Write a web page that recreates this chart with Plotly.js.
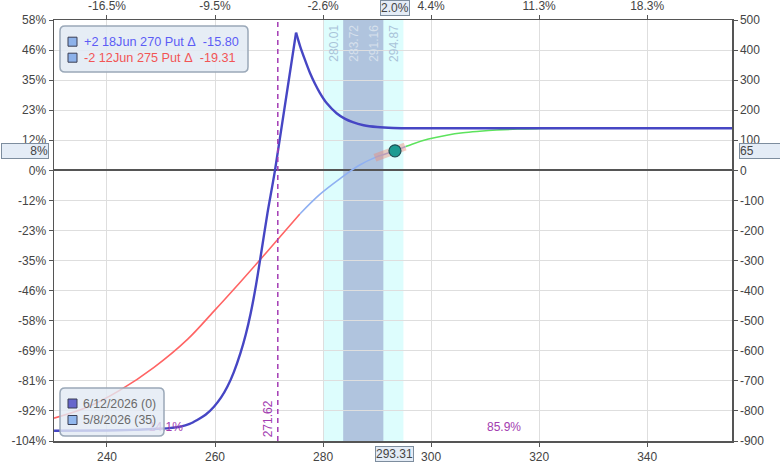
<!DOCTYPE html>
<html>
<head>
<meta charset="utf-8">
<script src="https://cdn.plot.ly/plotly-3.0.1.min.js"></script>
<style>html,body{margin:0;padding:0;background:#fff;}#chart{width:780px;height:463px;}</style>
</head>
<body>
<div id="chart"></div>
<script>
// ---- data ----
const xTicks = [240, 260, 280, 300, 320, 340];
const xTopLabels = ['-16.5%', '-9.5%', '-2.6%', '4.4%', '11.3%', '18.3%'];
const yTicks = [-900, -800, -700, -600, -500, -400, -300, -200, -100, 0, 100, 200, 300, 400, 500];
const yLeftLabels = ['-104%', '-92%', '-81%', '-69%', '-58%', '-46%', '-35%', '-23%', '-12%', '0%', '12%', '23%', '35%', '46%', '58%'];
const yRightLabels = ['-900', '-800', '-700', '-600', '-500', '-400', '-300', '-200', '-100', '0', '100', '200', '300', '400', '500'];

// expiration (6/12/2026) P&L
const expX = [230.2, 240, 245, 248.7, 251.5, 253.6, 255.3, 256.7, 258.3, 259.8, 261.1, 262.3, 263.5, 264.7, 265.7, 266.6, 267.6, 268.5, 269.7, 271.1, 275, 275.8, 276.6, 277.6, 278.5, 279.4, 280.7, 282.5, 284, 285.5, 287.5, 290, 293, 297, 356];
const expY = [-866, -865, -863, -860, -857, -852, -843, -830, -812, -786, -756, -719, -670, -608, -545, -475, -380, -280, -143, 0, 458, 410, 370, 323, 288, 258, 223, 190, 172, 160, 150, 144, 141, 140, 140];

// T+0 (5/8/2026) P&L
const t0X = [230.2, 236.3, 242.5, 248.7, 254.9, 259.8, 264.7, 268.5, 271.4, 275.7, 279.4, 283.1, 286.7, 289.8, 293.31, 295.3, 296.6, 299.5, 302.9, 305.9, 309, 312.1, 316, 320, 326, 335, 356];
const t0Y = [-824, -788, -730, -655, -562, -468, -371, -294, -234, -145, -80, -28, 17, 44, 65, 79, 88, 104, 117, 125, 130, 134, 137.5, 139, 140, 140, 140];
const t0Breaks = [275.7, 295.3];

const currentPrice = 293.31;
const currentPL = 65;
const currentPctTop = '2.0%';
const currentPctLeft = '8%';
const breakeven = 271.62;
const bandOuter = [280.01, 294.87];
const bandInner = [283.72, 291.16];
const probLabels = ['14.1%', '85.9%'];
const probX = [250.9, 313.5];
const probY = [-857, -857];
const tangentX = [289.6, 295.2];
const tangentY = [42, 79];

const legend1Labels = ['+2 18Jun 270 Put \u0394\u00a0\u00a0-15.80', '-2 12Jun 275 Put \u0394\u00a0\u00a0-19.31'];
const legend1Colors = ['#5c5cf5', '#f25555'];
const legend2Labels = ['6/12/2026 (0)', '5/8/2026 (35)'];
const legend2Swatch = ['#6666cc', '#92b8ee'];

// ---- geometry helpers (pixel -> paper) ----
const L = 54, R = 732, T = 20, B = 441;
const PX = p => (p - L) / (R - L);
const PY = p => (B - p) / (B - T);
function rr(x0, y0, x1, y1, r) {
  const X = PX, Y = PY;
  return `M ${X(x0 + r)},${Y(y0)} L ${X(x1 - r)},${Y(y0)} Q ${X(x1)},${Y(y0)} ${X(x1)},${Y(y0 + r)} L ${X(x1)},${Y(y1 - r)} Q ${X(x1)},${Y(y1)} ${X(x1 - r)},${Y(y1)} L ${X(x0 + r)},${Y(y1)} Q ${X(x0)},${Y(y1)} ${X(x0)},${Y(y1 - r)} L ${X(x0)},${Y(y0 + r)} Q ${X(x0)},${Y(y0)} ${X(x0 + r)},${Y(y0)} Z`;
}

function seg(xs0, ys0, lo, hi) {
  const xs = [], ys = [];
  for (let i = 0; i < xs0.length; i++) {
    if (xs0[i] >= lo && xs0[i] <= hi) { xs.push(xs0[i]); ys.push(ys0[i]); }
  }
  return { x: xs, y: ys };
}
const sRed = seg(t0X, t0Y, -Infinity, t0Breaks[0]);
const sBlue = seg(t0X, t0Y, t0Breaks[0], t0Breaks[1]);
const sGreen = seg(t0X, t0Y, t0Breaks[1], Infinity);
const peakX = expX[expY.indexOf(Math.max(...expY))];
const eLeft = seg(expX, expY, -Infinity, peakX);
const eRight = seg(expX, expY, peakX, Infinity);

const FONT = 'Liberation Sans, Arial, sans-serif';
const expLine = { color: '#4646c4', width: 2.4, shape: 'spline', smoothing: 0.8 };

const traces = [
  { x: sRed.x, y: sRed.y, mode: 'lines', line: { color: '#ff6464', width: 1.6, shape: 'spline', smoothing: 1 }, showlegend: false, hoverinfo: 'skip' },
  { x: sBlue.x, y: sBlue.y, mode: 'lines', line: { color: '#8fb0f2', width: 1.6, shape: 'spline', smoothing: 1 }, showlegend: false, hoverinfo: 'skip' },
  { x: sGreen.x, y: sGreen.y, mode: 'lines', line: { color: '#5de35d', width: 1.6, shape: 'spline', smoothing: 1 }, showlegend: false, hoverinfo: 'skip' },
  { x: tangentX, y: tangentY, mode: 'lines', line: { color: 'rgba(238,140,120,0.45)', width: 8 }, showlegend: false, hoverinfo: 'skip' },
  { x: eLeft.x, y: eLeft.y, mode: 'lines', line: expLine, showlegend: false, hoverinfo: 'skip' },
  { x: eRight.x, y: eRight.y, mode: 'lines', line: expLine, showlegend: false, hoverinfo: 'skip' },
  { x: [currentPrice], y: [currentPL], mode: 'markers', marker: { color: '#1d9b92', size: 12, line: { color: '#1f4f55', width: 1.2 } }, showlegend: false, hoverinfo: 'skip' },
  { x: probX, y: probY, mode: 'text', text: probLabels, textfont: { color: '#a23cb0', size: 12, family: FONT }, showlegend: false, hoverinfo: 'skip' },
  { x: [null], y: [null], xaxis: 'x2', yaxis: 'y2', mode: 'lines', showlegend: false, hoverinfo: 'skip' }
];

const axisCommon = {
  showline: true, linecolor: '#555', linewidth: 1.5,
  ticks: 'outside', ticklen: 4, tickcolor: '#555', tickwidth: 1,
  tickfont: { size: 12, color: '#444', family: FONT },
  zeroline: false, fixedrange: true
};

const shapes = [
  { type: 'rect', xref: 'x', yref: 'paper', x0: bandOuter[0], x1: bandOuter[1], y0: 0, y1: 1, fillcolor: '#ddfdfd', line: { width: 0 }, layer: 'below' },
  { type: 'rect', xref: 'x', yref: 'paper', x0: bandInner[0], x1: bandInner[1], y0: 0, y1: 1, fillcolor: '#b0c4de', line: { width: 0 }, layer: 'below' },
  { type: 'line', xref: 'x', yref: 'paper', x0: breakeven, x1: breakeven, y0: 0, y1: 1, line: { color: '#a43cb4', width: 1.5, dash: '5px,4px' }, layer: 'above' },
  { type: 'path', xref: 'paper', yref: 'paper', path: rr(60, 26, 248, 72, 5), fillcolor: 'rgba(226,234,244,0.88)', line: { color: '#9aa8b8', width: 1.5 }, layer: 'above' },
  { type: 'path', xref: 'paper', yref: 'paper', path: rr(60, 388, 164, 436, 5), fillcolor: 'rgba(226,234,244,0.8)', line: { color: '#9aa8b8', width: 1.5 }, layer: 'above' }
];
[41.7, 57.7].forEach((cy) => {
  shapes.push({ type: 'rect', xref: 'paper', yref: 'paper', x0: PX(68), x1: PX(77), y0: PY(cy - 4.5), y1: PY(cy + 4.5), fillcolor: '#8db2ea', line: { color: '#3a3f55', width: 1 }, layer: 'above' });
});
[403.5, 420].forEach((cy, i) => {
  shapes.push({ type: 'rect', xref: 'paper', yref: 'paper', x0: PX(68), x1: PX(77), y0: PY(cy - 4.5), y1: PY(cy + 4.5), fillcolor: legend2Swatch[i], line: { color: '#3a3f55', width: 1 }, layer: 'above' });
});

const boxStyle = { bgcolor: '#e4ecf6', bordercolor: '#7d8d9e', borderwidth: 1, borderpad: 0 };
const annotations = [
  Object.assign({ xref: 'x', x: currentPrice, yref: 'paper', y: 1, yanchor: 'bottom', yshift: 4, text: currentPctTop, showarrow: false, font: { size: 12, color: '#444', family: FONT } }, boxStyle),
  Object.assign({ xref: 'x', x: currentPrice, yref: 'paper', y: 0, yanchor: 'top', yshift: -5, text: String(currentPrice), showarrow: false, font: { size: 12, color: '#444', family: FONT } }, boxStyle),
  Object.assign({ xref: 'paper', x: 0, xanchor: 'right', xshift: -5, yref: 'y', y: currentPL, text: currentPctLeft, width: 46, align: 'right', showarrow: false, font: { size: 12, color: '#444', family: FONT } }, boxStyle),
  Object.assign({ xref: 'paper', x: 1, xanchor: 'left', xshift: 7, yref: 'y', y: currentPL, text: String(currentPL), width: 40, align: 'left', showarrow: false, font: { size: 12, color: '#444', family: FONT } }, boxStyle),
  { xref: 'x', x: breakeven, xanchor: 'right', xshift: -1, yref: 'paper', y: 0, yanchor: 'bottom', yshift: 2, text: String(breakeven), textangle: -90, showarrow: false, font: { size: 12, color: '#a23cb0', family: FONT } },
  { xref: 'x', x: bandOuter[0], xanchor: 'left', xshift: 1, yref: 'paper', y: 1, yanchor: 'top', yshift: -3, text: bandOuter[0].toFixed(2), textangle: -90, showarrow: false, font: { size: 12, color: '#a9c3d9', family: FONT } },
  { xref: 'x', x: bandInner[0], xanchor: 'left', xshift: 1, yref: 'paper', y: 1, yanchor: 'top', yshift: -3, text: bandInner[0].toFixed(2), textangle: -90, showarrow: false, font: { size: 12, color: '#d6e0ec', family: FONT } },
  { xref: 'x', x: bandInner[1], xanchor: 'right', xshift: -1, yref: 'paper', y: 1, yanchor: 'top', yshift: -3, text: bandInner[1].toFixed(2), textangle: -90, showarrow: false, font: { size: 12, color: '#d6e0ec', family: FONT } },
  { xref: 'x', x: bandOuter[1], xanchor: 'right', xshift: -1, yref: 'paper', y: 1, yanchor: 'top', yshift: -3, text: bandOuter[1].toFixed(2), textangle: -90, showarrow: false, font: { size: 12, color: '#a9c3d9', family: FONT } }
];
legend1Labels.forEach((t, i) => {
  annotations.push({ xref: 'paper', yref: 'paper', x: PX(82), y: PY(i === 0 ? 41.7 : 57.7), xanchor: 'left', yanchor: 'middle', text: t, showarrow: false, font: { size: 12.7, color: legend1Colors[i], family: FONT } });
});
legend2Labels.forEach((t, i) => {
  annotations.push({ xref: 'paper', yref: 'paper', x: PX(81), y: PY(i === 0 ? 403.5 : 420), xanchor: 'left', yanchor: 'middle', text: t, showarrow: false, font: { size: 12.3, color: '#6a6a6a', family: FONT } });
});

const layout = {
  width: 780, height: 463,
  margin: { l: L, r: 780 - R, t: T, b: 463 - B, pad: 0 },
  paper_bgcolor: '#ffffff', plot_bgcolor: '#ffffff',
  font: { family: FONT },
  showlegend: false,
  xaxis: Object.assign({}, axisCommon, { range: [230.19, 355.7], tickvals: xTicks, ticktext: xTicks.map(String), showgrid: true, gridcolor: '#dedede', gridwidth: 1 }),
  xaxis2: Object.assign({}, axisCommon, { overlaying: 'x', side: 'top', range: [230.19, 355.7], tickvals: xTicks, ticktext: xTopLabels, showgrid: false }),
  yaxis: Object.assign({}, axisCommon, { range: [-900, 500], tickvals: yTicks, ticktext: yLeftLabels, showgrid: true, gridcolor: '#dedede', gridwidth: 1, zeroline: true, zerolinecolor: '#555', zerolinewidth: 2 }),
  yaxis2: Object.assign({}, axisCommon, { overlaying: 'y', side: 'right', range: [-900, 500], tickvals: yTicks, ticktext: yRightLabels, showgrid: false }),
  shapes: shapes,
  annotations: annotations
};

Plotly.newPlot('chart', traces, layout, { staticPlot: true, displayModeBar: false });
</script>
</body>
</html>
